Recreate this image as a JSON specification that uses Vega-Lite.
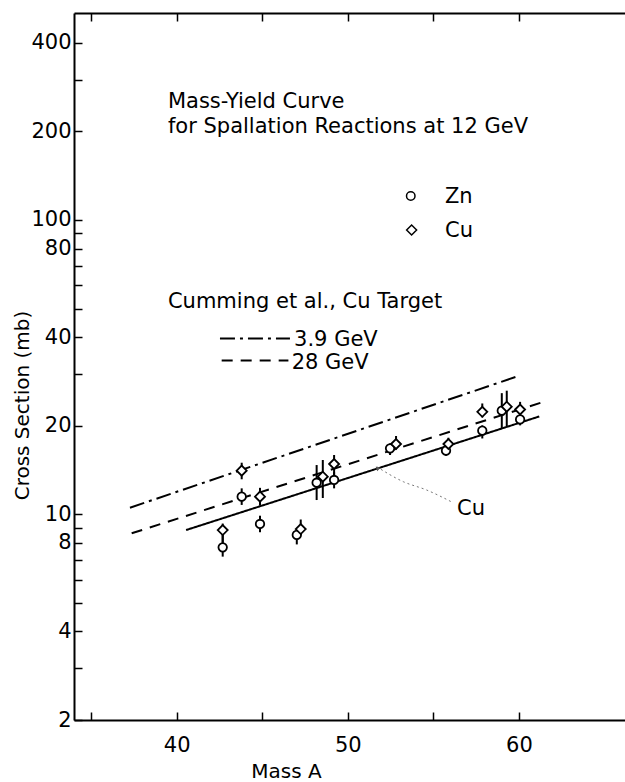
{
  "$schema": "https://vega.github.io/schema/vega-lite/v6.json",
  "width": 551,
  "height": 707,
  "autosize": {"type": "none"},
  "padding": {"left": 74, "top": 13, "right": 0, "bottom": 62},
  "background": "white",
  "config": {
    "view": {"stroke": null},
    "font": "DejaVu Sans",
    "axis": {
      "grid": false,
      "domainColor": "black",
      "domainWidth": 2,
      "tickColor": "black",
      "tickWidth": 1.5,
      "labelFont": "DejaVu Sans",
      "labelFontSize": 21,
      "labelColor": "black",
      "titleFont": "DejaVu Sans",
      "titleFontSize": 20,
      "titleFontWeight": "normal",
      "titleColor": "black",
      "labelOverlap": false,
      "labelFlush": false,
      "labelBound": false
    }
  },
  "datasets": {
    "points": [
      {"target": "Zn", "A": 42.69, "cs": 7.72, "lo": 7.18, "hi": 8.5},
      {"target": "Zn", "A": 43.8, "cs": 11.48, "lo": 10.76, "hi": 12.25},
      {"target": "Zn", "A": 44.87, "cs": 9.27, "lo": 8.69, "hi": 9.89},
      {"target": "Zn", "A": 47.02, "cs": 8.51, "lo": 7.9, "hi": 8.7},
      {"target": "Zn", "A": 48.18, "cs": 12.8, "lo": 11.18, "hi": 14.7},
      {"target": "Zn", "A": 49.2, "cs": 13.08, "lo": 12.25, "hi": 13.9},
      {"target": "Zn", "A": 52.47, "cs": 16.76, "lo": 15.9, "hi": 17.4},
      {"target": "Zn", "A": 55.74, "cs": 16.45, "lo": 15.8, "hi": 17.0},
      {"target": "Zn", "A": 57.86, "cs": 19.23, "lo": 18.1, "hi": 20.05},
      {"target": "Zn", "A": 59.0, "cs": 22.5, "lo": 19.64, "hi": 25.8},
      {"target": "Zn", "A": 60.07, "cs": 21.0, "lo": 20.05, "hi": 22.0},
      {"target": "Cu", "A": 42.69, "cs": 8.84, "lo": 8.0, "hi": 9.3},
      {"target": "Cu", "A": 43.8, "cs": 14.07, "lo": 13.15, "hi": 14.97},
      {"target": "Cu", "A": 44.87, "cs": 11.48, "lo": 10.7, "hi": 12.3},
      {"target": "Cu", "A": 47.25, "cs": 8.91, "lo": 8.5, "hi": 9.6},
      {"target": "Cu", "A": 48.54, "cs": 13.42, "lo": 11.36, "hi": 15.29},
      {"target": "Cu", "A": 49.2, "cs": 14.82, "lo": 13.6, "hi": 15.9},
      {"target": "Cu", "A": 52.82, "cs": 17.33, "lo": 16.6, "hi": 18.45},
      {"target": "Cu", "A": 55.88, "cs": 17.33, "lo": 16.8, "hi": 18.2},
      {"target": "Cu", "A": 57.86, "cs": 22.3, "lo": 21.35, "hi": 23.8},
      {"target": "Cu", "A": 59.29, "cs": 23.2, "lo": 19.84, "hi": 26.3},
      {"target": "Cu", "A": 60.07, "cs": 22.7, "lo": 21.75, "hi": 24.1}
    ],
    "key": [
      {"target": "Zn", "A": 53.68, "cs": 120.6},
      {"target": "Cu", "A": 53.73, "cs": 92.5}
    ],
    "curves": [
      {"series": "3.9 GeV", "seg": "fit1", "A": 37.27, "cs": 10.53},
      {"series": "3.9 GeV", "seg": "fit1", "A": 59.97, "cs": 29.5},
      {"series": "28 GeV", "seg": "fit2", "A": 37.37, "cs": 8.62},
      {"series": "28 GeV", "seg": "fit2", "A": 61.63, "cs": 24.3},
      {"series": "Cu", "seg": "fit3", "A": 40.55, "cs": 8.84},
      {"series": "Cu", "seg": "fit3", "A": 61.19, "cs": 21.5},
      {"series": "3.9 GeV", "seg": "key1", "A": 42.53, "cs": 39.6},
      {"series": "3.9 GeV", "seg": "key1", "A": 46.62, "cs": 39.6},
      {"series": "28 GeV", "seg": "key2", "A": 42.63, "cs": 33.3},
      {"series": "28 GeV", "seg": "key2", "A": 46.53, "cs": 33.3}
    ],
    "notes": [
      {"text": "Mass-Yield Curve", "A": 39.49, "cs": 240},
      {"text": "for Spallation Reactions at 12 GeV", "A": 39.49, "cs": 197},
      {"text": "Zn", "A": 55.68, "cs": 113.96},
      {"text": "Cu", "A": 55.68, "cs": 87.7},
      {"text": "Cumming et al., Cu Target", "A": 39.49, "cs": 50.4},
      {"text": "3.9 GeV", "A": 46.86, "cs": 37.3},
      {"text": "28 GeV", "A": 46.72, "cs": 31.1},
      {"text": "Cu", "A": 56.38, "cs": 9.95}
    ],
    "arrow": [
      {"A": 51.69, "cs": 14.51},
      {"A": 53.25, "cs": 12.9},
      {"A": 54.61, "cs": 12.09},
      {"A": 56.09, "cs": 11.0}
    ],
    "arrowhead": [
      {"A": 51.72, "cs": 14.35}
    ]
  },
  "resolve": {"axis": {"x": "independent", "y": "independent"}},
  "layer": [
    {
      "data": {"name": "curves"},
      "mark": {"type": "line", "color": "black", "strokeWidth": 2},
      "encoding": {
        "x": {
          "field": "A", "type": "quantitative",
          "scale": {"domain": [34, 66.2], "nice": false, "zero": false},
          "axis": {
            "orient": "bottom",
            "values": [35, 40, 45, 50, 55, 60],
            "labelExpr": "datum.value % 10 == 0 ? datum.label : ''",
            "tickSize": -8,
            "labelPadding": 22,
            "title": "Mass A",
            "titleX": 212,
            "titleY": 51,
            "titleAlign": "center",
            "titleBaseline": "middle"
          }
        },
        "y": {
          "field": "cs", "type": "quantitative",
          "scale": {"type": "log", "domain": [2, 505], "nice": false},
          "axis": {
            "orient": "left",
            "values": [2, 3, 4, 5, 6, 7, 8, 9, 10, 20, 30, 40, 50, 60, 70, 80, 90, 100, 200, 300, 400],
            "format": "d",
            "labelExpr": "indexof([2,4,8,10,20,40,80,100,200,400], datum.value) >= 0 ? datum.label : ''",
            "tickSize": -8,
            "labelPadding": 11,
            "labelAlign": "right",
            "labelBaseline": "middle",
            "title": "Cross Section (mb)",
            "titleAngle": -90,
            "titleX": -52,
            "titleY": 392,
            "titleAlign": "center",
            "titleBaseline": "middle"
          }
        },
        "strokeDash": {
          "field": "series", "type": "nominal",
          "scale": {"domain": ["3.9 GeV", "28 GeV", "Cu"], "range": [[15, 5, 3, 5], [11, 8], [1, 0]]},
          "legend": null
        },
        "detail": {"field": "seg"}
      }
    },
    {
      "data": {"name": "points"},
      "mark": {"type": "rule", "color": "black", "strokeWidth": 2},
      "encoding": {
        "x": {
          "field": "A", "type": "quantitative",
          "axis": {
            "orient": "top",
            "values": [35, 40, 45, 50, 55, 60],
            "labels": false,
            "tickSize": -8,
            "title": null
          }
        },
        "y": {"field": "lo", "type": "quantitative", "axis": null},
        "y2": {"field": "hi"}
      }
    },
    {
      "data": {"name": "points"},
      "mark": {"type": "point", "filled": true, "fill": "white", "stroke": "black", "strokeWidth": 1.8, "opacity": 1},
      "encoding": {
        "x": {"field": "A", "type": "quantitative", "axis": null},
        "y": {"field": "cs", "type": "quantitative", "axis": null},
        "shape": {
          "field": "target", "type": "nominal",
          "scale": {"domain": ["Zn", "Cu"], "range": ["circle", "diamond"]},
          "legend": null
        },
        "size": {
          "field": "target", "type": "nominal",
          "scale": {"domain": ["Zn", "Cu"], "range": [72, 100]},
          "legend": null
        }
      }
    },
    {
      "data": {"name": "key"},
      "mark": {"type": "point", "filled": true, "fill": "white", "stroke": "black", "strokeWidth": 1.5, "opacity": 1},
      "encoding": {
        "x": {"field": "A", "type": "quantitative", "axis": null},
        "y": {"field": "cs", "type": "quantitative", "axis": null},
        "shape": {"field": "target", "type": "nominal", "legend": null},
        "size": {"field": "target", "type": "nominal", "legend": null}
      }
    },
    {
      "data": {"name": "arrow"},
      "mark": {"type": "line", "color": "#777777", "strokeWidth": 1, "strokeDash": [2, 3], "interpolate": "monotone"},
      "encoding": {
        "x": {"field": "A", "type": "quantitative", "axis": null},
        "y": {"field": "cs", "type": "quantitative", "axis": null}
      }
    },
    {
      "data": {"name": "arrowhead"},
      "mark": {"type": "point", "shape": "triangle-up", "filled": true, "color": "#555555", "size": 22, "angle": -50, "opacity": 1},
      "encoding": {
        "x": {"field": "A", "type": "quantitative", "axis": null},
        "y": {"field": "cs", "type": "quantitative", "axis": null}
      }
    },
    {
      "data": {"name": "notes"},
      "mark": {"type": "text", "align": "left", "baseline": "alphabetic", "font": "DejaVu Sans", "fontSize": 21, "color": "black"},
      "encoding": {
        "x": {"field": "A", "type": "quantitative", "axis": null},
        "y": {"field": "cs", "type": "quantitative", "axis": null},
        "text": {"field": "text"}
      }
    }
  ]
}
